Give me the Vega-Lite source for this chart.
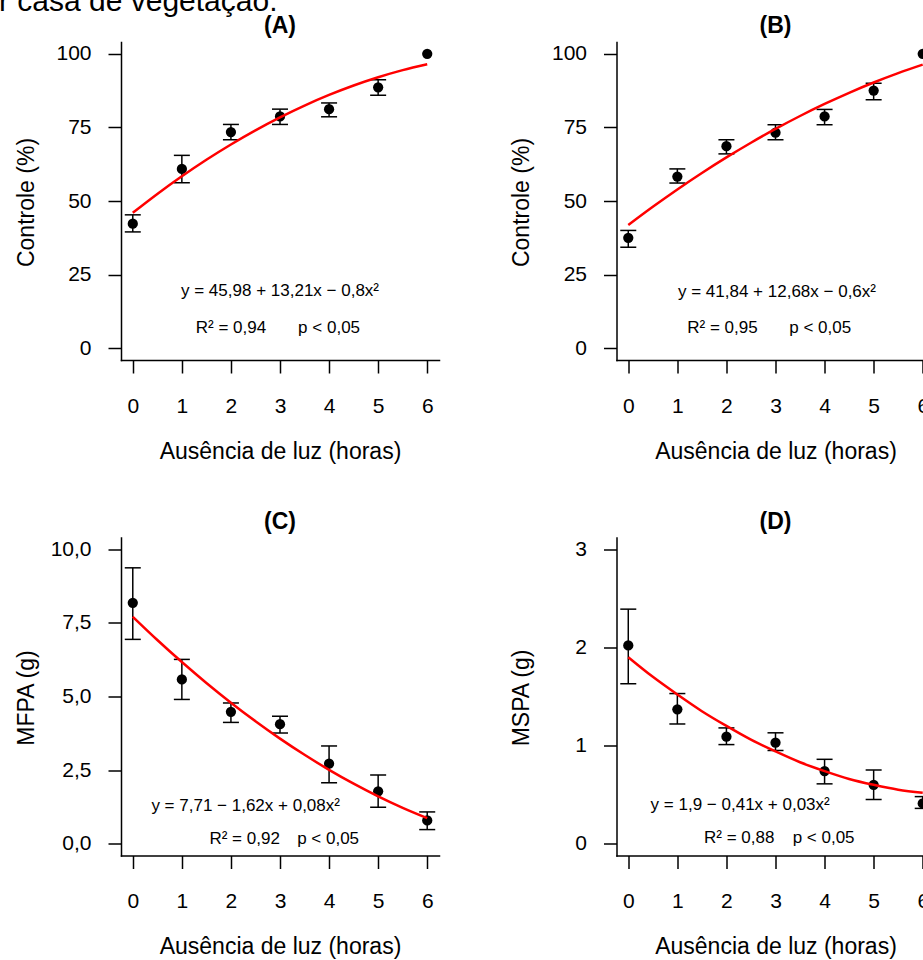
{
  "$schema": "https://vega.github.io/schema/vega-lite/v6.json",
  "autosize": {"type": "none"},
  "padding": {"left": 121, "top": 42, "right": 802, "bottom": 918},
  "background": "#ffffff",
  "title": {"text": "r casa de vegetação.", "anchor": "start", "frame": "group", "fontSize": 30, "fontWeight": "normal", "font": "Liberation Sans", "color": "#000", "baseline": "alphabetic", "offset": 0, "dy": 26, "dx": -122},
  "datasets": {
    "ptsA": [
      {"x": 0, "y": 42.3, "lo": 39.5, "hi": 45.3},
      {"x": 1, "y": 60.9, "lo": 56.2, "hi": 65.5},
      {"x": 2, "y": 73.4, "lo": 70.8, "hi": 76.0},
      {"x": 3, "y": 78.7, "lo": 76.0, "hi": 81.2},
      {"x": 4, "y": 81.2, "lo": 78.6, "hi": 83.3},
      {"x": 5, "y": 88.6, "lo": 85.9, "hi": 91.2},
      {"x": 6, "y": 100, "lo": null, "hi": null}
    ],
    "curveA": [
      {"x": 0, "y": 45.98}, {"x": 0.5, "y": 52.39}, {"x": 1, "y": 58.39}, {"x": 1.5, "y": 64.0},
      {"x": 2, "y": 69.2}, {"x": 2.5, "y": 74.0}, {"x": 3, "y": 78.41}, {"x": 3.5, "y": 82.42},
      {"x": 4, "y": 86.02}, {"x": 4.5, "y": 89.23}, {"x": 5, "y": 92.03}, {"x": 5.5, "y": 94.44}, {"x": 6, "y": 96.44}
    ],
    "txtA": [
      {"x": 3, "y": 19.3, "label": "y = 45,98 + 13,21x − 0,8x²"},
      {"x": 2, "y": 6.7, "label": "R² = 0,94"},
      {"x": 4, "y": 6.7, "label": "p < 0,05"}
    ],
    "ptsB": [
      {"x": 0, "y": 37.5, "lo": 34.3, "hi": 40.0},
      {"x": 1, "y": 58.3, "lo": 56.1, "hi": 60.9},
      {"x": 2, "y": 68.6, "lo": 66.0, "hi": 70.8},
      {"x": 3, "y": 73.2, "lo": 70.8, "hi": 75.9},
      {"x": 4, "y": 78.7, "lo": 75.9, "hi": 81.1},
      {"x": 5, "y": 87.5, "lo": 84.4, "hi": 90.0},
      {"x": 6, "y": 100, "lo": null, "hi": null}
    ],
    "curveB": [
      {"x": 0, "y": 41.84}, {"x": 0.5, "y": 48.03}, {"x": 1, "y": 53.92}, {"x": 1.5, "y": 59.51},
      {"x": 2, "y": 64.8}, {"x": 2.5, "y": 69.79}, {"x": 3, "y": 74.48}, {"x": 3.5, "y": 78.87},
      {"x": 4, "y": 82.96}, {"x": 4.5, "y": 86.75}, {"x": 5, "y": 90.24}, {"x": 5.5, "y": 93.43}, {"x": 6, "y": 96.32}
    ],
    "txtB": [
      {"x": 3.03, "y": 19.0, "label": "y = 41,84 + 12,68x − 0,6x²"},
      {"x": 1.92, "y": 6.7, "label": "R² = 0,95"},
      {"x": 3.91, "y": 6.7, "label": "p < 0,05"}
    ],
    "ptsC": [
      {"x": 0, "y": 8.18, "lo": 6.94, "hi": 9.37},
      {"x": 1, "y": 5.58, "lo": 4.90, "hi": 6.26},
      {"x": 2, "y": 4.48, "lo": 4.12, "hi": 4.78},
      {"x": 3, "y": 4.06, "lo": 3.76, "hi": 4.33},
      {"x": 4, "y": 2.72, "lo": 2.07, "hi": 3.32},
      {"x": 5, "y": 1.78, "lo": 1.24, "hi": 2.33},
      {"x": 6, "y": 0.79, "lo": 0.48, "hi": 1.08}
    ],
    "curveC": [
      {"x": 0, "y": 7.71}, {"x": 0.5, "y": 6.92}, {"x": 1, "y": 6.17}, {"x": 1.5, "y": 5.46},
      {"x": 2, "y": 4.79}, {"x": 2.5, "y": 4.16}, {"x": 3, "y": 3.57}, {"x": 3.5, "y": 3.02},
      {"x": 4, "y": 2.51}, {"x": 4.5, "y": 2.04}, {"x": 5, "y": 1.61}, {"x": 5.5, "y": 1.22}, {"x": 6, "y": 0.87}
    ],
    "txtC": [
      {"x": 2.3, "y": 1.29, "label": "y = 7,71 − 1,62x + 0,08x²"},
      {"x": 2.28, "y": 0.16, "label": "R² = 0,92"},
      {"x": 3.98, "y": 0.16, "label": "p < 0,05"}
    ],
    "ptsD": [
      {"x": 0, "y": 2.02, "lo": 1.63, "hi": 2.39},
      {"x": 1, "y": 1.37, "lo": 1.22, "hi": 1.53},
      {"x": 2, "y": 1.09, "lo": 1.01, "hi": 1.18},
      {"x": 3, "y": 1.03, "lo": 0.95, "hi": 1.13},
      {"x": 4, "y": 0.74, "lo": 0.61, "hi": 0.86},
      {"x": 5, "y": 0.60, "lo": 0.45, "hi": 0.75},
      {"x": 6, "y": 0.41, "lo": 0.36, "hi": 0.48}
    ],
    "curveD": [
      {"x": 0, "y": 1.9}, {"x": 0.5, "y": 1.7}, {"x": 1, "y": 1.52}, {"x": 1.5, "y": 1.35},
      {"x": 2, "y": 1.2}, {"x": 2.5, "y": 1.06}, {"x": 3, "y": 0.94}, {"x": 3.5, "y": 0.83},
      {"x": 4, "y": 0.74}, {"x": 4.5, "y": 0.66}, {"x": 5, "y": 0.6}, {"x": 5.5, "y": 0.55}, {"x": 6, "y": 0.52}
    ],
    "txtD": [
      {"x": 2.28, "y": 0.39, "label": "y = 1,9 − 0,41x + 0,03x²"},
      {"x": 2.26, "y": 0.054, "label": "R² = 0,88"},
      {"x": 3.98, "y": 0.054, "label": "p < 0,05"}
    ]
  },
  "columns": 2,
  "spacing": {"row": 177.5, "column": 177.5},
  "bounds": "flush",
  "concat": [
    {
      "width": 318, "height": 318, "title": "(A)",
      "encoding": {
        "x": {"field": "x", "type": "quantitative", "title": "Ausência de luz (horas)", "scale": {"domain": [-0.24, 6.24], "nice": false, "zero": false}, "axis": {"values": [0, 1, 2, 3, 4, 5, 6], "format": "d"}},
        "y": {"field": "y", "type": "quantitative", "title": "Controle (%)", "scale": {"domain": [-4, 104], "nice": false, "zero": false}, "axis": {"values": [0, 25, 50, 75, 100], "format": "d"}}
      },
      "layer": [
        {"data": {"name": "ptsA"}, "mark": {"type": "rule", "color": "#000", "strokeWidth": 1.5}, "encoding": {"y": {"field": "lo", "type": "quantitative", "title": "Controle (%)", "scale": {"domain": [-4, 104], "nice": false, "zero": false}}, "y2": {"field": "hi"}}},
        {"data": {"name": "ptsA"}, "mark": {"type": "tick", "orient": "horizontal", "size": 16, "thickness": 1.5, "color": "#000", "opacity": 1}, "encoding": {"y": {"field": "lo", "type": "quantitative", "title": "Controle (%)", "scale": {"domain": [-4, 104], "nice": false, "zero": false}}}},
        {"data": {"name": "ptsA"}, "mark": {"type": "tick", "orient": "horizontal", "size": 16, "thickness": 1.5, "color": "#000", "opacity": 1}, "encoding": {"y": {"field": "hi", "type": "quantitative", "title": "Controle (%)", "scale": {"domain": [-4, 104], "nice": false, "zero": false}}}},
        {"data": {"name": "ptsA"}, "mark": {"type": "point", "shape": "circle", "filled": true, "color": "#000", "size": 105, "opacity": 1}},
        {"data": {"name": "curveA"}, "mark": {"type": "line", "color": "#ff0000", "strokeWidth": 2.5, "interpolate": "monotone"}},
        {"data": {"name": "txtA"}, "mark": {"type": "text", "fontSize": 17, "color": "#000", "font": "Liberation Sans", "align": "center", "baseline": "middle"}, "encoding": {"text": {"field": "label"}}}
      ]
    },
    {
      "width": 318, "height": 318, "title": "(B)",
      "encoding": {
        "x": {"field": "x", "type": "quantitative", "title": "Ausência de luz (horas)", "scale": {"domain": [-0.24, 6.24], "nice": false, "zero": false}, "axis": {"values": [0, 1, 2, 3, 4, 5, 6], "format": "d"}},
        "y": {"field": "y", "type": "quantitative", "title": "Controle (%)", "scale": {"domain": [-4, 104], "nice": false, "zero": false}, "axis": {"values": [0, 25, 50, 75, 100], "format": "d"}}
      },
      "layer": [
        {"data": {"name": "ptsB"}, "mark": {"type": "rule", "color": "#000", "strokeWidth": 1.5}, "encoding": {"y": {"field": "lo", "type": "quantitative", "title": "Controle (%)", "scale": {"domain": [-4, 104], "nice": false, "zero": false}}, "y2": {"field": "hi"}}},
        {"data": {"name": "ptsB"}, "mark": {"type": "tick", "orient": "horizontal", "size": 16, "thickness": 1.5, "color": "#000", "opacity": 1}, "encoding": {"y": {"field": "lo", "type": "quantitative", "title": "Controle (%)", "scale": {"domain": [-4, 104], "nice": false, "zero": false}}}},
        {"data": {"name": "ptsB"}, "mark": {"type": "tick", "orient": "horizontal", "size": 16, "thickness": 1.5, "color": "#000", "opacity": 1}, "encoding": {"y": {"field": "hi", "type": "quantitative", "title": "Controle (%)", "scale": {"domain": [-4, 104], "nice": false, "zero": false}}}},
        {"data": {"name": "ptsB"}, "mark": {"type": "point", "shape": "circle", "filled": true, "color": "#000", "size": 105, "opacity": 1}},
        {"data": {"name": "curveB"}, "mark": {"type": "line", "color": "#ff0000", "strokeWidth": 2.5, "interpolate": "monotone"}},
        {"data": {"name": "txtB"}, "mark": {"type": "text", "fontSize": 17, "color": "#000", "font": "Liberation Sans", "align": "center", "baseline": "middle"}, "encoding": {"text": {"field": "label"}}}
      ]
    },
    {
      "width": 318, "height": 318, "title": "(C)",
      "encoding": {
        "x": {"field": "x", "type": "quantitative", "title": "Ausência de luz (horas)", "scale": {"domain": [-0.24, 6.24], "nice": false, "zero": false}, "axis": {"values": [0, 1, 2, 3, 4, 5, 6], "format": "d"}},
        "y": {"field": "y", "type": "quantitative", "title": "MFPA (g)", "scale": {"domain": [-0.4, 10.4], "nice": false, "zero": false}, "axis": {"values": [0, 2.5, 5, 7.5, 10], "format": ".1f"}}
      },
      "layer": [
        {"data": {"name": "ptsC"}, "mark": {"type": "rule", "color": "#000", "strokeWidth": 1.5}, "encoding": {"y": {"field": "lo", "type": "quantitative", "title": "MFPA (g)", "scale": {"domain": [-0.4, 10.4], "nice": false, "zero": false}}, "y2": {"field": "hi"}}},
        {"data": {"name": "ptsC"}, "mark": {"type": "tick", "orient": "horizontal", "size": 16, "thickness": 1.5, "color": "#000", "opacity": 1}, "encoding": {"y": {"field": "lo", "type": "quantitative", "title": "MFPA (g)", "scale": {"domain": [-0.4, 10.4], "nice": false, "zero": false}}}},
        {"data": {"name": "ptsC"}, "mark": {"type": "tick", "orient": "horizontal", "size": 16, "thickness": 1.5, "color": "#000", "opacity": 1}, "encoding": {"y": {"field": "hi", "type": "quantitative", "title": "MFPA (g)", "scale": {"domain": [-0.4, 10.4], "nice": false, "zero": false}}}},
        {"data": {"name": "ptsC"}, "mark": {"type": "point", "shape": "circle", "filled": true, "color": "#000", "size": 105, "opacity": 1}},
        {"data": {"name": "curveC"}, "mark": {"type": "line", "color": "#ff0000", "strokeWidth": 2.5, "interpolate": "monotone"}},
        {"data": {"name": "txtC"}, "mark": {"type": "text", "fontSize": 17, "color": "#000", "font": "Liberation Sans", "align": "center", "baseline": "middle"}, "encoding": {"text": {"field": "label"}}}
      ]
    },
    {
      "width": 318, "height": 318, "title": "(D)",
      "encoding": {
        "x": {"field": "x", "type": "quantitative", "title": "Ausência de luz (horas)", "scale": {"domain": [-0.24, 6.24], "nice": false, "zero": false}, "axis": {"values": [0, 1, 2, 3, 4, 5, 6], "format": "d"}},
        "y": {"field": "y", "type": "quantitative", "title": "MSPA (g)", "scale": {"domain": [-0.12, 3.12], "nice": false, "zero": false}, "axis": {"values": [0, 1, 2, 3], "format": "d"}}
      },
      "layer": [
        {"data": {"name": "ptsD"}, "mark": {"type": "rule", "color": "#000", "strokeWidth": 1.5}, "encoding": {"y": {"field": "lo", "type": "quantitative", "title": "MSPA (g)", "scale": {"domain": [-0.12, 3.12], "nice": false, "zero": false}}, "y2": {"field": "hi"}}},
        {"data": {"name": "ptsD"}, "mark": {"type": "tick", "orient": "horizontal", "size": 16, "thickness": 1.5, "color": "#000", "opacity": 1}, "encoding": {"y": {"field": "lo", "type": "quantitative", "title": "MSPA (g)", "scale": {"domain": [-0.12, 3.12], "nice": false, "zero": false}}}},
        {"data": {"name": "ptsD"}, "mark": {"type": "tick", "orient": "horizontal", "size": 16, "thickness": 1.5, "color": "#000", "opacity": 1}, "encoding": {"y": {"field": "hi", "type": "quantitative", "title": "MSPA (g)", "scale": {"domain": [-0.12, 3.12], "nice": false, "zero": false}}}},
        {"data": {"name": "ptsD"}, "mark": {"type": "point", "shape": "circle", "filled": true, "color": "#000", "size": 105, "opacity": 1}},
        {"data": {"name": "curveD"}, "mark": {"type": "line", "color": "#ff0000", "strokeWidth": 2.5, "interpolate": "monotone"}},
        {"data": {"name": "txtD"}, "mark": {"type": "text", "fontSize": 17, "color": "#000", "font": "Liberation Sans", "align": "center", "baseline": "middle"}, "encoding": {"text": {"field": "label"}}}
      ]
    }
  ],
  "config": {
    "locale": {"number": {"decimal": ",", "thousands": ".", "grouping": [3], "currency": ["R$", ""]}},
    "font": "Liberation Sans",
    "view": {"stroke": null},
    "title": {"font": "Liberation Sans", "fontSize": 23, "fontWeight": "bold", "color": "#000", "offset": 4, "baseline": "alphabetic", "anchor": "middle", "frame": "group"},
    "axis": {"domainColor": "#000", "domainWidth": 1.5, "domainCap": "square", "tickColor": "#000", "tickWidth": 1.5, "tickSize": 13, "grid": false, "labelFont": "Liberation Sans", "labelFontSize": 21, "labelColor": "#000", "labelFlush": false, "labelOverlap": false, "titleFont": "Liberation Sans", "titleFontSize": 23, "titleFontWeight": "normal", "titleColor": "#000"},
    "axisX": {"labelBaseline": "alphabetic", "labelPadding": 39, "titleBaseline": "alphabetic", "titleX": 159, "titleY": 98},
    "axisY": {"labelPadding": 17, "labelBaseline": "middle", "titleBaseline": "alphabetic", "titleX": -88, "titleY": 160}
  }
}
